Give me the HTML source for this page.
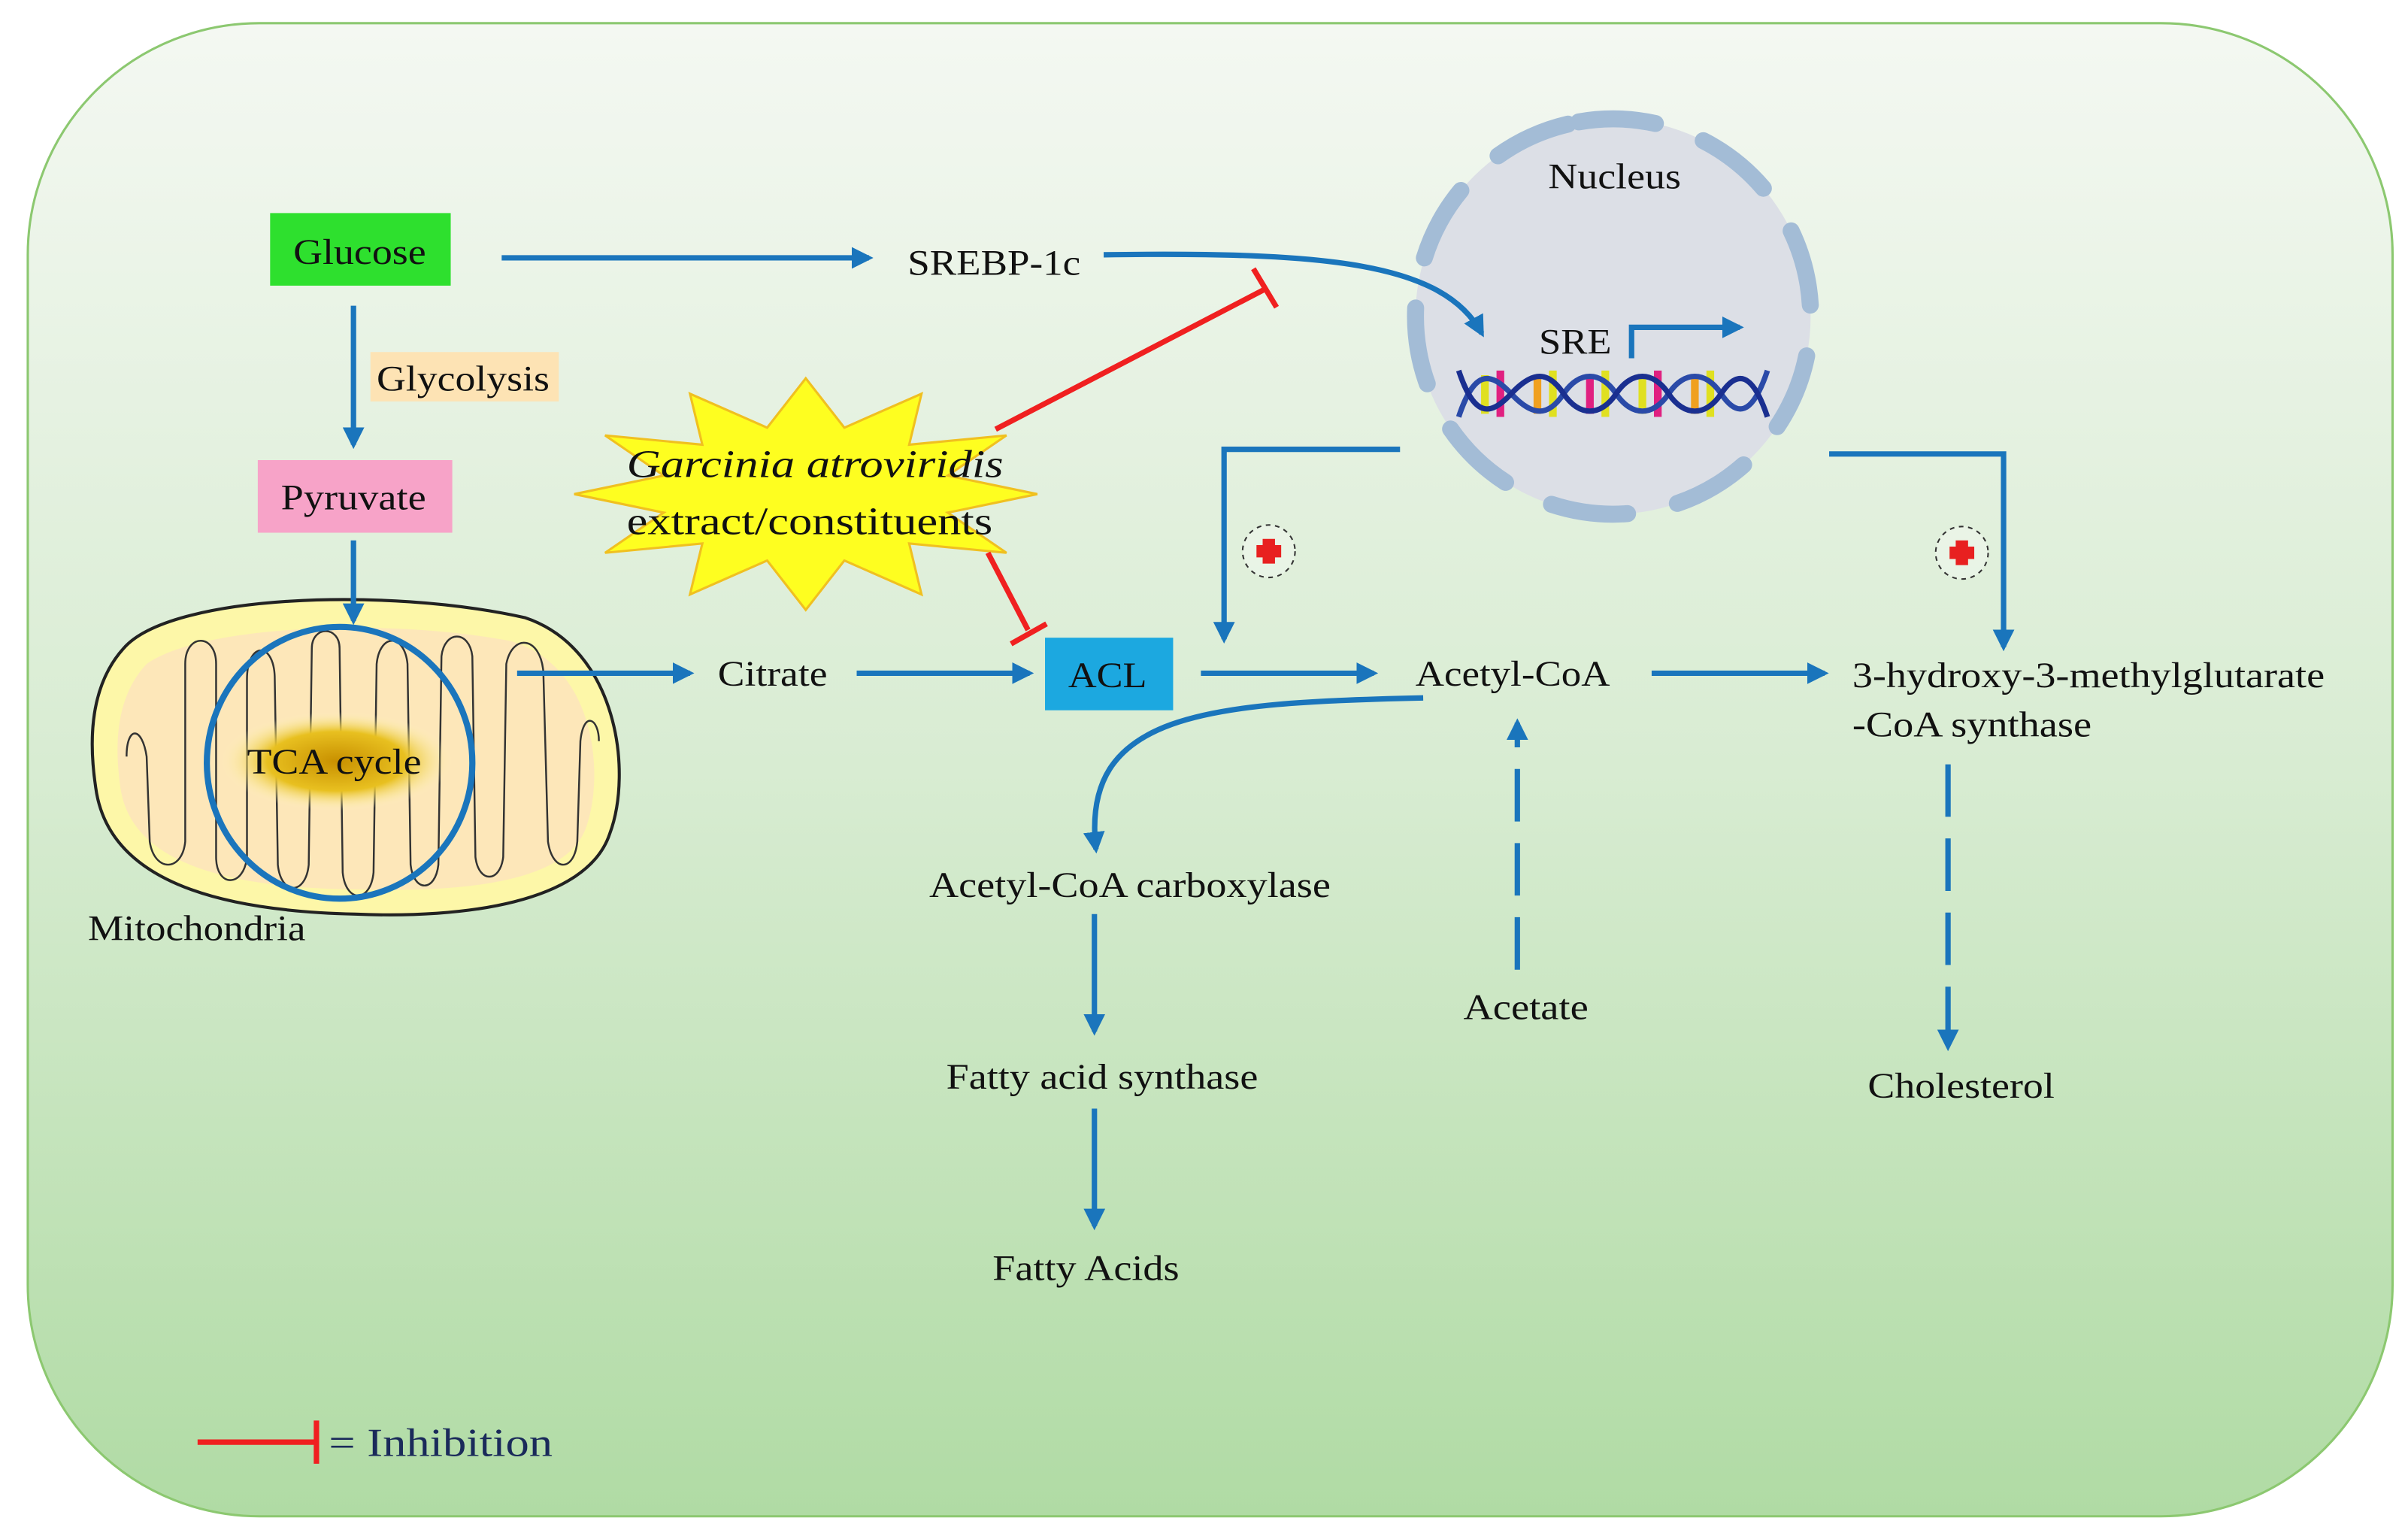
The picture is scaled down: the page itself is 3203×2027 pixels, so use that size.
<!DOCTYPE html>
<html><head><meta charset="utf-8"><style>
html,body{margin:0;padding:0;background:#fff;}
svg{display:block;}
</style></head><body>
<svg width="3203" height="2027" viewBox="0 0 1560 987" preserveAspectRatio="none" xmlns="http://www.w3.org/2000/svg" font-family="'Liberation Serif','DejaVu Serif',serif">
<defs>
<linearGradient id="bg" x1="0" y1="0" x2="0" y2="1">
<stop offset="0" stop-color="#f4f8f2"/><stop offset="0.5" stop-color="#d8ecd2"/><stop offset="1" stop-color="#b0dba4"/>
</linearGradient>
<radialGradient id="tca" cx="0.5" cy="0.5" r="0.5">
<stop offset="0" stop-color="#c89000"/><stop offset="0.6" stop-color="#e8c020"/><stop offset="1" stop-color="#fff8c0" stop-opacity="0"/>
</radialGradient>
<marker id="ar" viewBox="0 0 10 10" refX="8" refY="5" markerWidth="4" markerHeight="4" orient="auto"><path d="M0,0 L10,5 L0,10 z" fill="#1a75bc"/></marker>
</defs>
<g fill="#111" font-size="23">
<rect x="18" y="15" width="1532" height="967" rx="150" ry="150" fill="url(#bg)" stroke="#8cc870" stroke-width="1.5"/>

<!-- Nucleus (drawn first) -->
<circle cx="1045" cy="205" r="128" fill="#dcdfe6"/>
<circle cx="1045" cy="205" r="128" fill="none" stroke="#a3bcd6" stroke-width="11" stroke-linecap="round" stroke-dasharray="50 33" transform="rotate(-100 1045 205)"/>
<text x="1003" y="122" textLength="86" lengthAdjust="spacingAndGlyphs">Nucleus</text>
<text x="997" y="229" textLength="47" lengthAdjust="spacingAndGlyphs">SRE</text>
<polyline points="1057,232 1057,212 1127,212" fill="none" stroke="#1a75bc" stroke-width="3.5" marker-end="url(#ar)"/>
<g stroke-width="5">
<line x1="962" y1="243" x2="962" y2="268" stroke="#e0e020"/><line x1="972" y1="240" x2="972" y2="270" stroke="#e02080"/>
<line x1="996" y1="243" x2="996" y2="268" stroke="#f0a020"/><line x1="1006" y1="240" x2="1006" y2="270" stroke="#e0e020"/>
<line x1="1030" y1="243" x2="1030" y2="268" stroke="#e02080"/><line x1="1040" y1="240" x2="1040" y2="270" stroke="#e0e020"/>
<line x1="1064" y1="243" x2="1064" y2="268" stroke="#e0e020"/><line x1="1074" y1="240" x2="1074" y2="270" stroke="#e02080"/>
<line x1="1098" y1="243" x2="1098" y2="268" stroke="#f0a020"/><line x1="1108" y1="240" x2="1108" y2="270" stroke="#e0e020"/>
</g>
<path d="M945,270 C955,240 965,240 979,255 S1003,270 1013,255 S1037,240 1047,255 S1071,270 1081,255 S1105,240 1115,255 S1135,270 1145,240" fill="none" stroke="#2a4aa8" stroke-width="3.5"/>
<path d="M945,240 C955,270 965,270 979,255 S1003,240 1013,255 S1037,270 1047,255 S1071,240 1081,255 S1105,270 1115,255 S1135,240 1145,270" fill="none" stroke="#1a2f90" stroke-width="3.5"/>

<!-- Glucose -->
<rect x="175" y="138" width="117" height="47" fill="#2ee02e"/>
<text x="190" y="171" textLength="86" lengthAdjust="spacingAndGlyphs">Glucose</text>
<line x1="325" y1="167" x2="563" y2="167" stroke="#1a75bc" stroke-width="3.5" marker-end="url(#ar)"/>
<text x="588" y="178" textLength="112" lengthAdjust="spacingAndGlyphs">SREBP-1c</text>
<path d="M715,165 C860,163 935,170 960,216" fill="none" stroke="#1a75bc" stroke-width="3.5" marker-end="url(#ar)"/>
<line x1="645" y1="278" x2="820" y2="187" stroke="#f02020" stroke-width="3.5"/>
<line x1="812" y1="174" x2="827" y2="199" stroke="#f02020" stroke-width="3.5"/>

<rect x="240" y="228" width="122" height="32" fill="#fde3b4"/>
<text x="244" y="253" textLength="112" lengthAdjust="spacingAndGlyphs">Glycolysis</text>
<line x1="229" y1="198" x2="229" y2="288" stroke="#1a75bc" stroke-width="3.5" marker-end="url(#ar)"/>
<rect x="167" y="298" width="126" height="47" fill="#f7a3c8"/>
<text x="182" y="330" textLength="94" lengthAdjust="spacingAndGlyphs">Pyruvate</text>

<!-- Mitochondria -->
<path d="M80,420 C110,385 250,380 340,400 C400,420 410,500 395,540 C380,585 300,595 230,592 C140,590 70,570 62,510 C56,470 62,440 80,420 z" fill="#fdf7a8" stroke="#222" stroke-width="2"/>
<path d="M95,430 C130,405 250,400 330,415 C385,430 392,500 380,535 C368,572 300,578 230,576 C150,575 85,560 78,510 C73,475 78,448 95,430 z" fill="#fde4bc" opacity="0.85"/>
<path d="M82,490 C82,470 92,470 95,490 L97,545 C100,565 118,565 120,545 L120,430 C120,410 140,410 140,430 L140,555 C140,575 158,575 160,555 L160,440 C160,415 178,415 178,440 L180,560 C182,580 198,580 200,560 L202,420 C202,405 220,405 220,420 L222,565 C224,585 240,585 242,565 L244,430 C246,410 262,410 264,430 L266,560 C268,578 282,578 284,560 L286,425 C288,408 304,408 306,425 L308,555 C310,572 324,572 326,555 L328,430 C332,410 350,412 352,435 L355,545 C358,565 372,565 374,545 L376,480 C378,460 388,465 388,480" fill="none" stroke="#333" stroke-width="1.2"/>
<ellipse cx="218" cy="493" rx="75" ry="32" fill="url(#tca)"/>
<text x="160" y="501" textLength="113" lengthAdjust="spacingAndGlyphs">TCA cycle</text>
<ellipse cx="220" cy="494" rx="86" ry="88" fill="none" stroke="#1a75bc" stroke-width="4"/>
<line x1="229" y1="350" x2="229" y2="402" stroke="#1a75bc" stroke-width="3.5" marker-end="url(#ar)"/>
<text x="57" y="609" textLength="141" lengthAdjust="spacingAndGlyphs">Mitochondria</text>

<line x1="335" y1="436" x2="447" y2="436" stroke="#1a75bc" stroke-width="3.5" marker-end="url(#ar)"/>
<text x="465" y="444" textLength="71" lengthAdjust="spacingAndGlyphs">Citrate</text>
<line x1="555" y1="436" x2="667" y2="436" stroke="#1a75bc" stroke-width="3.5" marker-end="url(#ar)"/>
<rect x="677" y="413" width="83" height="47" fill="#1ca8e0"/>
<text x="692" y="445" textLength="51" lengthAdjust="spacingAndGlyphs">ACL</text>

<!-- starburst -->
<polygon points="672,320 614,332 652,358 589,352 597,385 547,363 522,395 497,363 447,385 455,352 392,358 430,332 372,320 430,308 392,282 455,288 447,255 497,277 522,245 547,277 597,255 589,288 652,282 614,308" fill="#fefe20" stroke="#f0c020" stroke-width="1.5"/>
<text x="406" y="309" font-size="25" font-style="italic" textLength="244" lengthAdjust="spacingAndGlyphs">Garcinia atroviridis</text>
<text x="406" y="346" font-size="25" textLength="237" lengthAdjust="spacingAndGlyphs">extract/constituents</text>
<line x1="640" y1="358" x2="666" y2="408" stroke="#f02020" stroke-width="3.5"/>
<line x1="655" y1="417" x2="678" y2="404" stroke="#f02020" stroke-width="3.5"/>

<line x1="778" y1="436" x2="890" y2="436" stroke="#1a75bc" stroke-width="3.5" marker-end="url(#ar)"/>
<text x="917" y="444" textLength="126" lengthAdjust="spacingAndGlyphs">Acetyl-CoA</text>
<line x1="1070" y1="436" x2="1182" y2="436" stroke="#1a75bc" stroke-width="3.5" marker-end="url(#ar)"/>
<text x="1200" y="445" textLength="306" lengthAdjust="spacingAndGlyphs">3-hydroxy-3-methylglutarate</text>
<text x="1200" y="477" textLength="155" lengthAdjust="spacingAndGlyphs">-CoA synthase</text>

<polyline points="907,291 793,291 793,414" fill="none" stroke="#1a75bc" stroke-width="3.5" marker-end="url(#ar)"/>
<polyline points="1185,294 1298,294 1298,419" fill="none" stroke="#1a75bc" stroke-width="3.5" marker-end="url(#ar)"/>
<circle cx="822" cy="357" r="17" fill="#fff" fill-opacity="0.3" stroke="#333" stroke-width="1" stroke-dasharray="3 3"/>
<path d="M818,349 h8 v4 h4 v8 h-4 v4 h-8 v-4 h-4 v-8 h4 z" fill="#e82020"/>
<circle cx="1271" cy="358" r="17" fill="#fff" fill-opacity="0.3" stroke="#333" stroke-width="1" stroke-dasharray="3 3"/>
<path d="M1267,350 h8 v4 h4 v8 h-4 v4 h-8 v-4 h-4 v-8 h4 z" fill="#e82020"/>

<path d="M922,452 C780,455 700,462 710,550" fill="none" stroke="#1a75bc" stroke-width="3.5" marker-end="url(#ar)"/>
<text x="602" y="581" textLength="260" lengthAdjust="spacingAndGlyphs">Acetyl-CoA carboxylase</text>
<line x1="709" y1="592" x2="709" y2="668" stroke="#1a75bc" stroke-width="3.5" marker-end="url(#ar)"/>
<text x="613" y="705" textLength="202" lengthAdjust="spacingAndGlyphs">Fatty acid synthase</text>
<line x1="709" y1="718" x2="709" y2="794" stroke="#1a75bc" stroke-width="3.5" marker-end="url(#ar)"/>
<text x="643" y="829" textLength="121" lengthAdjust="spacingAndGlyphs">Fatty Acids</text>

<line x1="983" y1="628" x2="983" y2="468" stroke="#1a75bc" stroke-width="3.5" stroke-dasharray="34 14" marker-end="url(#ar)"/>
<text x="948" y="660" textLength="81" lengthAdjust="spacingAndGlyphs">Acetate</text>
<line x1="1262" y1="495" x2="1262" y2="678" stroke="#1a75bc" stroke-width="3.5" stroke-dasharray="34 14" marker-end="url(#ar)"/>
<text x="1210" y="711" textLength="121" lengthAdjust="spacingAndGlyphs">Cholesterol</text>

<line x1="128" y1="934" x2="205" y2="934" stroke="#f02020" stroke-width="3.5"/>
<line x1="205" y1="920" x2="205" y2="948" stroke="#f02020" stroke-width="3.5"/>
<text x="213" y="943" font-size="26" fill="#1a2a5a" textLength="145" lengthAdjust="spacingAndGlyphs">= Inhibition</text>
</g>
</svg>
</body></html>
